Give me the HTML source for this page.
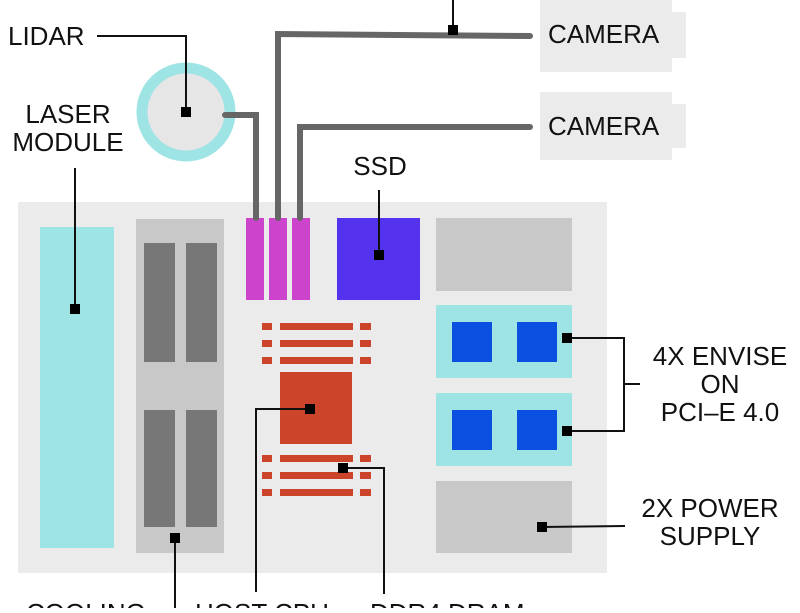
<!DOCTYPE html>
<html><head><style>
body{margin:0;width:800px;height:608px;overflow:hidden;background:#fff}
svg text{font-family:"Liberation Sans",sans-serif;font-size:26px;fill:#111}
</style></head><body>
<svg width="800" height="608" viewBox="0 0 800 608">
<rect x="18" y="202" width="589" height="371" fill="#ebebeb"/>
<rect x="40" y="227" width="74" height="321" fill="#9fe4e5"/>
<rect x="136" y="219" width="88" height="334" fill="#c8c8c8"/>
<rect x="144" y="243" width="31" height="119" fill="#777"/>
<rect x="186" y="243" width="31" height="119" fill="#777"/>
<rect x="144" y="410" width="31" height="117" fill="#777"/>
<rect x="186" y="410" width="31" height="117" fill="#777"/>
<rect x="246" y="218" width="18" height="82" fill="#cc44cc"/>
<rect x="269" y="218" width="18" height="82" fill="#cc44cc"/>
<rect x="292" y="218" width="18" height="82" fill="#cc44cc"/>
<rect x="337" y="218" width="83" height="82" fill="#5533ee"/>
<rect x="436" y="218" width="136" height="73" fill="#c8c8c8"/>
<rect x="436" y="305" width="136" height="73" fill="#9fe4e5"/>
<rect x="436" y="393" width="136" height="73" fill="#9fe4e5"/>
<rect x="452" y="322" width="40" height="40" fill="#0a4fe0"/>
<rect x="517" y="322" width="40" height="40" fill="#0a4fe0"/>
<rect x="452" y="410" width="40" height="40" fill="#0a4fe0"/>
<rect x="517" y="410" width="40" height="40" fill="#0a4fe0"/>
<rect x="436" y="481" width="136" height="72" fill="#c8c8c8"/>
<g fill="#cc442a">
<rect x="262" y="323" width="10" height="7"/><rect x="280" y="323" width="73" height="7"/><rect x="360" y="323" width="11" height="7"/>
<rect x="262" y="340" width="10" height="7"/><rect x="280" y="340" width="73" height="7"/><rect x="360" y="340" width="11" height="7"/>
<rect x="262" y="357" width="10" height="7"/><rect x="280" y="357" width="73" height="7"/><rect x="360" y="357" width="11" height="7"/>
<rect x="262" y="455" width="10" height="7"/><rect x="280" y="455" width="73" height="7"/><rect x="360" y="455" width="11" height="7"/>
<rect x="262" y="472" width="10" height="7"/><rect x="280" y="472" width="73" height="7"/><rect x="360" y="472" width="11" height="7"/>
<rect x="262" y="489" width="10" height="7"/><rect x="280" y="489" width="73" height="7"/><rect x="360" y="489" width="11" height="7"/>
<rect x="280" y="372" width="72" height="72"/>
</g>
<rect x="540" y="0" width="132" height="72" fill="#ebebeb"/>
<rect x="672" y="12" width="14" height="46" fill="#ebebeb"/>
<rect x="540" y="92" width="132" height="68" fill="#ebebeb"/>
<rect x="672" y="104" width="14" height="44" fill="#ebebeb"/>
<circle cx="186" cy="112" r="44" fill="#e6e6e6" stroke="#9fe4e5" stroke-width="11"/>
<g fill="none" stroke="#666" stroke-width="6" stroke-linecap="round">
<polyline points="530,36 278,34 278,218"/>
<polyline points="530,127 300,127 300,218"/>
<polyline points="225,115 256,115 256,218"/>
</g>
<g fill="none" stroke="#111" stroke-width="2">
<polyline points="97,36 186,36 186,112"/>
<line x1="453" y1="0" x2="453" y2="30"/>
<line x1="75" y1="168" x2="75" y2="309"/>
<line x1="379" y1="190" x2="379" y2="255"/>
<polyline points="567,338 624,338 624,431 567,431"/>
<line x1="624" y1="384" x2="640" y2="384"/>
<line x1="542" y1="527" x2="625" y2="526"/>
<line x1="175" y1="538" x2="175" y2="608"/>
<polyline points="310,409 256,409 256,592"/>
<polyline points="343,468 384,468 384,594"/>
</g>
<g fill="#000">
<rect x="181" y="107" width="10" height="10"/>
<rect x="448" y="25" width="10" height="10"/>
<rect x="70" y="304" width="10" height="10"/>
<rect x="374" y="250" width="10" height="10"/>
<rect x="562" y="333" width="10" height="10"/>
<rect x="562" y="426" width="10" height="10"/>
<rect x="537" y="522" width="10" height="10"/>
<rect x="170" y="533" width="10" height="10"/>
<rect x="305" y="404" width="10" height="10"/>
<rect x="338" y="463" width="10" height="10"/>
</g>
<text x="8" y="45">LIDAR</text>
<text x="548" y="43">CAMERA</text>
<text x="548" y="135">CAMERA</text>
<text x="68" y="123" text-anchor="middle">LASER</text>
<text x="68" y="151" text-anchor="middle">MODULE</text>
<text x="380" y="175" text-anchor="middle">SSD</text>
<text x="720" y="365" text-anchor="middle">4X ENVISE</text>
<text x="720" y="393" text-anchor="middle">ON</text>
<text x="720" y="421" text-anchor="middle">PCI–E 4.0</text>
<text x="710" y="517" text-anchor="middle">2X POWER</text>
<text x="710" y="545" text-anchor="middle">SUPPLY</text>
<text x="26" y="622">COOLING</text>
<text x="195" y="622">HOST CPU</text>
<text x="370" y="622">DDR4 DRAM</text>
</svg>
</body></html>
